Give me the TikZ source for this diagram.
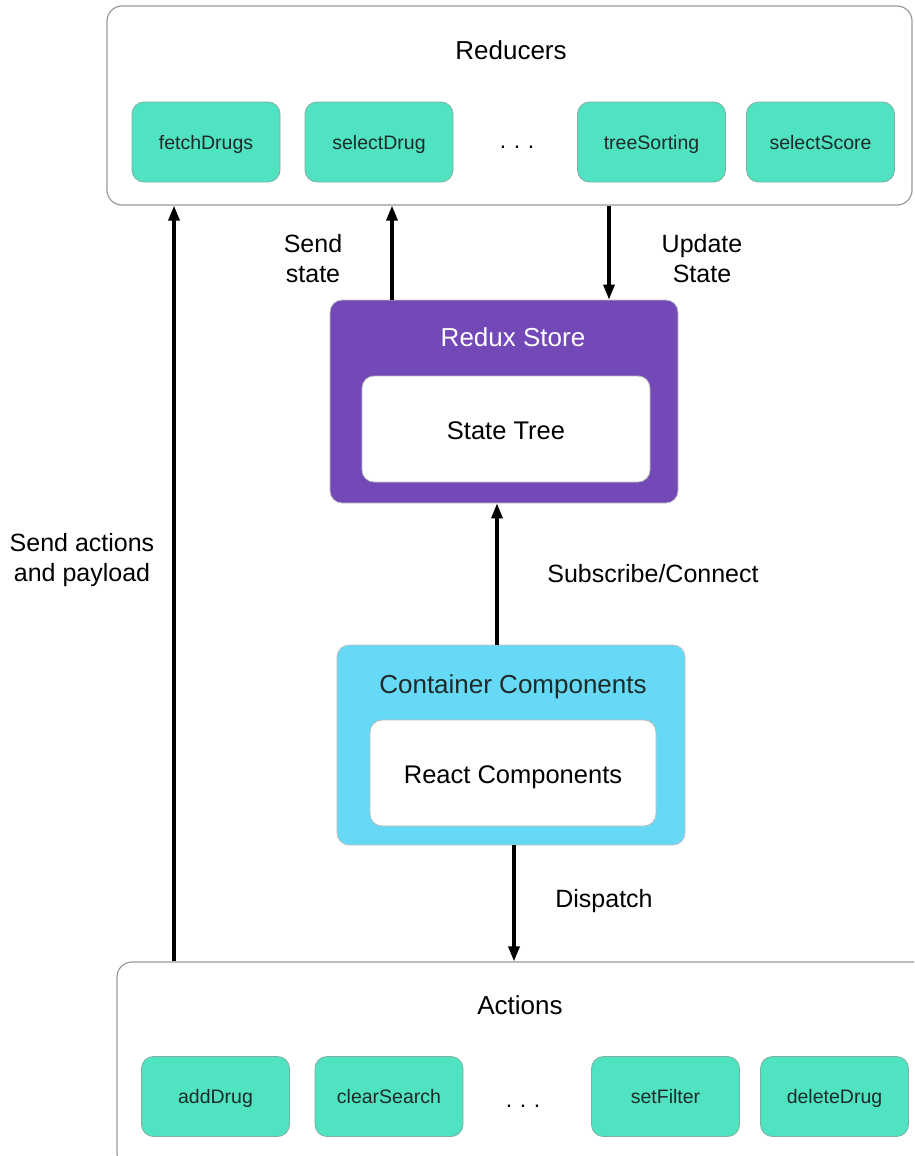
\documentclass[tikz,border=0pt]{standalone}
\usepackage{fontspec}
\setmainfont{Liberation Sans}
\usetikzlibrary{arrows.meta}
\definecolor{mint}{HTML}{50E3C2}
\definecolor{mintline}{HTML}{7FAFA2}
\definecolor{storepurple}{HTML}{7249B7}
\definecolor{contblue}{HTML}{66D9F6}
\definecolor{boxgray}{HTML}{9A9A9A}
\definecolor{txtdark}{HTML}{1E2A28}
\tikzset{
  outerbox/.style={draw=boxgray, line width=1.2pt, fill=white, rounded corners=15pt, inner sep=0pt},
  greenbox/.style={draw=mintline, line width=0.8pt, fill=mint, rounded corners=12pt,
    minimum width=148pt, minimum height=80pt, inner sep=0pt, text=txtdark,
    text height=16pt, text depth=2pt,
    font=\fontsize{19.5}{22}\selectfont},
  innerbox/.style={draw=boxgray!70, line width=0.8pt, fill=white, rounded corners=12pt, inner sep=0pt,
    text height=22pt, text depth=2pt,
    font=\fontsize{25.5}{30}\selectfont},
  colbox/.style={draw=boxgray!60, line width=0.8pt, rounded corners=12pt, inner sep=0pt},
  title/.style={font=\fontsize{26}{30}\selectfont, inner sep=0pt, text height=21pt, text depth=2pt},
  lbl/.style={font=\fontsize{25}{30}\selectfont, align=center, inner sep=0pt},
  dots/.style={font=\fontsize{23}{26}\selectfont, inner sep=0pt},
  arr/.style={line width=3.2pt, -{Triangle[length=15pt,width=11pt]}}
}
\begin{document}
\begin{tikzpicture}[x=1pt,y=-1pt]
\useasboundingbox (0,0) rectangle (914,1156);
\clip (0,0) rectangle (914,1156);

% Reducers
\node[outerbox, minimum width=805pt, minimum height=199pt] (reducers) at (509.5,105.5) {};
\node[title] (redtitle) at (511,50) {Reducers};
\node[greenbox] (fetch) at (206,142) {fetchDrugs};
\node[greenbox] (seldrug) at (379,142) {selectDrug};
\node[dots] (rdots) at (517,147) {.\,\,.\,\,.};
\node[greenbox] (tree) at (651.5,142) {treeSorting};
\node[greenbox] (selscore) at (820.5,142) {selectScore};

% Redux store
\node[colbox, fill=storepurple, minimum width=348pt, minimum height=203pt] (store) at (504,401.5) {};
\node[title, text=white] (storetitle) at (513,337) {Redux Store};
\node[innerbox, minimum width=288pt, minimum height=106pt] (statetree) at (506,429) {State Tree};

% Container
\node[colbox, fill=contblue, minimum width=348pt, minimum height=200pt] (container) at (511,745) {};
\node[title, text=txtdark] (conttitle) at (513,684) {Container Components};
\node[innerbox, minimum width=286pt, minimum height=106pt] (react) at (513,773) {React Components};

% Actions
\node[outerbox, minimum width=813pt, minimum height=206pt] (actions) at (523.5,1065) {};
\node[title] (acttitle) at (520,1005) {Actions};
\node[greenbox] (add) at (215.5,1096.5) {addDrug};
\node[greenbox] (clear) at (389,1096.5) {clearSearch};
\node[dots] (adots) at (523,1106) {.\,\,.\,\,.};
\node[greenbox] (filter) at (665.5,1096.5) {setFilter};
\node[greenbox] (del) at (834.5,1096.5) {deleteDrug};

% connectors
\coordinate (x1) at (174,0);
\coordinate (x2) at (392,0);
\coordinate (x3) at (609,0);
\coordinate (x4) at (497,0);
\coordinate (x5) at (514,0);
\draw[arr] (x1 |- actions.north) -- (x1 |- reducers.south);
\draw[arr] (x2 |- store.north) -- (x2 |- reducers.south);
\draw[arr] (x3 |- reducers.south) -- (x3 |- store.north);
\draw[arr] (x4 |- container.north) -- (x4 |- store.south);
\draw[arr] (x5 |- container.south) -- (x5 |- actions.north);

% labels
\node[lbl] (lsend) at (313,259) {Send\\state};
\node[lbl] (lupd) at (702,259) {Update\\State};
\node[lbl] (lsub) at (653,574) {Subscribe/Connect};
\node[lbl] (ldisp) at (604,901) {Dispatch};
\node[lbl] (lact) at (82,560) {Send actions\\and payload};
\end{tikzpicture}
\end{document}
